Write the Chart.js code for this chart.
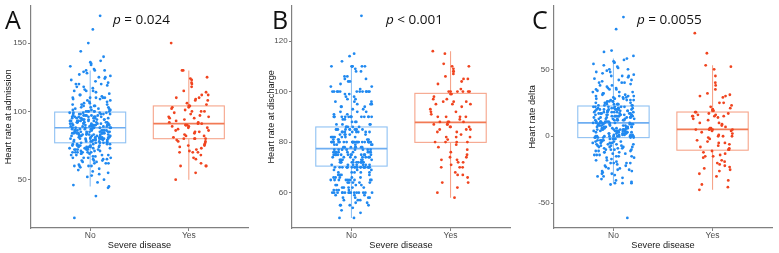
<!DOCTYPE html>
<html>
<head>
<meta charset="utf-8">
<script src="https://cdn.jsdelivr.net/npm/chart.js@4.4.1/dist/chart.umd.min.js"></script>
<style>
  html, body { margin: 0; padding: 0; background: #fff; overflow: hidden; }
  #wrap { position: relative; width: 779px; height: 253px; }
  .panel { position: absolute; top: 0; height: 253px; }
  .letter { position: absolute; font-family: "Open Sans", sans-serif; font-size: 25px; line-height: 25px; color: #111; }
  .pval { position: absolute; font-family: "Open Sans", sans-serif; font-size: 13.5px; line-height: 13.5px; color: #111; white-space: nowrap; }
</style>
</head>
<body>
<div id="wrap">
  <canvas id="chartA" class="panel" width="259" height="253" style="left:0px"></canvas>
  <canvas id="chartB" class="panel" width="259" height="253" style="left:260px"></canvas>
  <canvas id="chartC" class="panel" width="260" height="253" style="left:519px"></canvas>
  <div class="letter" style="left:5px; top:7px">A</div>
  <div class="letter" style="left:272px; top:7px">B</div>
  <div class="letter" style="left:532px; top:7px">C</div>
  <div class="pval" style="left:113px; top:12.5px"><i>p</i> = 0.024</div>
  <div class="pval" style="left:386px; top:12.5px"><i>p</i> &lt; 0.001</div>
  <div class="pval" style="left:637px; top:12.5px"><i>p</i> = 0.0055</div>
</div>
<script>
// Grupos
const groups = ['No', 'Yes'];

// Panel A: frecuencia al ingreso
const admissionNo = [
  170,160,150,144,140,137,136,135,134,133,131,130,130,130,129,128,127,126,125,125,124,123,122,121,120,120,120,119,118,118,
  117,116,115,115,115,114,113,112,112,111,110,110,110,110,110,109,109,108,108,107,107,106,106,105,105,105,104,104,104,103,
  103,103,102,102,102,101,101,101,100,100,100,100,
  99,99,99,98,98,98,98,97,97,97,97,96,96,96,96,96,95,95,95,95,95,94,94,94,94,93,93,93,93,92,92,92,92,92,91,91,91,91,
  90,90,90,90,90,90,89,89,89,89,88,88,88,88,100,98,96,94,92,90,88,99,97,95,93,91,89,90,92,94,96,98,100,95,93,91,89,97,
  99,90,90,94,96,92,88,91,93,
  87,87,87,87,86,86,86,86,86,85,85,85,85,85,84,84,84,84,84,83,83,83,83,82,82,82,82,82,81,81,81,81,80,80,80,80,80,80,80,
  79,79,79,79,78,78,78,78,77,77,77,77,88,86,84,82,80,78,87,85,83,81,79,77,80,82,84,86,88,80,80,85,83,81,79,78,84,86,82,
  80,87,85,83,81,79,77,
  76,76,76,76,75,75,75,75,75,74,74,74,74,73,73,73,73,72,72,72,72,72,71,71,71,70,70,70,70,70,69,69,69,68,68,68,67,67,66,
  66,66,65,65,65,64,64,63,63,62,62,61,60,60,60,59,58,57,56,55,54,53,52,50,48,46,45,44,38,22,70,72,74,76,68,66,64,62,60,75,73
];
const admissionYes = [
  150,130,130,125,124,123,121,120,118,115,114,112,110,110,109,108,106,105,104,104,103,103,102,101,100,100,99,98,97,96,
  95,95,94,93,92,91,91,90,90,90,90,89,89,88,88,87,86,85,85,84,83,82,81,80,80,80,80,79,78,77,76,75,74,73,72,71,70,70,68,
  66,65,62,60,60,60,55,50,70,75,78,82,86,92,96,100,104,108,112
];
// [bigote inferior, Q1, mediana, Q3, bigote superior]
const admissionBoxNo = [45, 77, 88, 99.5, 130];
const admissionBoxYes = [50, 80, 91, 104, 130];
const admissionTicks = [50, 100, 150];

// Panel B: frecuencia al alta
const dischargeNo = [
  130,115,114,112,110,110,110,110,110,110,109,108,106,105,105,104,103,102,101,100,100,100,100,100,100,100,100,100,100,99,
  98,98,97,96,96,95,95,94,94,93,92,92,91,90,90,90,90,90,90,90,90,90,90,90,90,89,89,88,88,88,87,87,87,87,100,100,95,93,91,
  97,99,104,102,108,106,92,94,96,90,90,
  86,86,86,85,85,85,85,85,85,85,84,84,84,84,84,83,83,83,82,82,82,82,81,81,81,80,80,80,80,80,80,80,80,80,80,80,80,80,80,
  80,79,79,79,78,78,78,78,78,77,77,77,77,86,84,82,80,80,80,85,83,81,79,77,80,80,80,78,84,82,80,80,85,83,81,79,78,80,80,
  82,84,86,85,
  77,76,76,76,76,76,75,75,75,75,75,75,75,74,74,74,74,73,73,73,73,72,72,72,72,72,72,71,71,71,71,70,70,70,70,70,70,70,70,
  70,70,70,70,70,70,70,75,75,76,74,72,72,73,71,70,70,76,75,74,73,72,71,70,70,75,75,72,72,74,76,70,70,71,73,75,77,77,76,74,72,
  69,69,68,68,68,67,67,67,66,66,66,65,65,65,65,65,65,65,64,64,64,63,63,63,62,62,62,61,61,61,60,60,60,60,60,60,60,60,60,
  60,60,59,59,58,58,58,57,57,56,56,55,55,55,54,53,52,50,50,68,66,64,62,60,60,65,65,67,69,63,61,59,57,55,58,60,62,64,66,68,60
];
const dischargeYes = [
  116,115,111,110,110,109,108,108,107,106,105,105,103,101,100,100,100,100,100,99,99,98,97,97,96,96,95,95,94,93,92,91,90,
  90,90,89,88,88,88,87,87,87,86,86,86,85,85,84,83,82,82,81,80,80,80,80,79,78,77,75,74,74,73,72,72,71,70,70,70,68,67,67,
  66,64,64,62,60,58,85,88,90,84,92,95,100,76,73,82,96,104
];
const dischargeBoxNo = [50, 70.5, 77.4, 86, 110];
const dischargeBoxYes = [58, 79.9, 87.8, 99.3, 116];
const dischargeTicks = [60, 80, 100, 120];

// Panel C: delta de frecuencia
const deltaNo = [
  89,80,64,63,58,57,56,55,55,54,52,51,50,50,49,48,47,46,45,45,44,43,42,42,41,40,40,39,38,37,36,36,35,35,34,33,33,32,32,
  31,30,30,30,29,29,28,28,27,27,27,26,26,26,25,25,25,24,24,24,24,23,23,23,23,40,35,30,28,26,24,45,38,33,29,25,31,27,60,53,48,
  22,22,22,22,21,21,21,21,20,20,20,20,20,19,19,19,19,18,18,18,18,18,17,17,17,17,16,16,16,16,15,15,15,15,15,14,14,14,14,
  13,13,13,13,12,12,12,12,11,11,11,11,10,10,10,10,22,20,18,16,14,12,10,21,19,17,15,13,11,20,20,15,15,10,10,18,16,14,12,
  22,21,19,17,13,11,10,
  9,9,9,9,8,8,8,8,7,7,7,7,7,6,6,6,6,5,5,5,5,5,4,4,4,4,3,3,3,3,2,2,2,2,1,1,1,1,0,0,0,0,0,0,-1,-1,-1,-1,-2,-2,-2,9,7,5,3,
  1,-1,8,6,4,2,0,-2,5,5,0,0,8,6,4,2,9,7,3,1,-1,5,3,0,6,4,2,
  -3,-3,-3,-4,-4,-4,-5,-5,-5,-6,-6,-6,-7,-7,-7,-8,-8,-8,-9,-9,-10,-10,-10,-11,-11,-12,-12,-13,-13,-14,-14,-15,-15,-16,
  -17,-18,-19,-20,-20,-21,-22,-23,-24,-25,-25,-26,-27,-28,-29,-30,-31,-32,-33,-35,-35,-35,-36,-61,-4,-6,-8,-10,-12,-3,-5,
  -7,-9,-11,-15,-18,-22,-26,-30,-20,-20,-14,-16,-24,-28,-34
];
const deltaYes = [
  77,62,53,52,50,45,40,38,35,32,31,30,30,29,25,23,22,21,20,19,19,18,18,17,17,16,16,15,15,15,14,13,12,10,9,8,7,6,6,5,5,
  5,5,4,4,3,2,1,0,0,-1,-2,-3,-4,-5,-6,-7,-8,-9,-10,-10,-11,-12,-13,-14,-15,-16,-18,-19,-20,-21,-22,-23,-24,-25,-26,-28,
  -30,-33,-36,-38,-40,15,5,-5,20,10,0,-15,25
];
const deltaBoxNo = [-35, -1, 10, 22.6, 58];
const deltaBoxYes = [-40, -10.4, 5.2, 18.1, 53];
const deltaTicks = [-50, 0, 50];

const BLUE = '#2089f0';
const RED = '#f0441f';
const BLUE_BOX = '#8fc1f3';
const BLUE_MED = '#6eaef2';
const RED_BOX = '#f6a48a';
const RED_MED = '#f27a55';
const AXIS = '#808080';
const FONT = 'Liberation Sans, Arial, sans-serif';
const JITTER = 0.21;
const HALF_BOX = 0.36;

// desplazamiento horizontal determinista (solo posicion, no datos)
function jitter(values, center) {
    return values.map((v, i) => {
        const h = Math.sin((i + 1) * 12.9898 + center * 78.233) * 43758.5453;
        return { x: center + JITTER * (2 * (h - Math.floor(h)) - 1), y: v };
    });
}

const boxPlugin = {
    id: 'boxes',
    beforeDatasetsDraw(chart) {
        const xs = chart.scales.x, ys = chart.scales.y, ctx = chart.ctx;
        chart.options.plugins.boxes.items.forEach((b, i) => {
            const c = i + 1;
            const [lo, q1, med, q3, hi] = b.stats;
            const x0 = xs.getPixelForValue(c - HALF_BOX), x1 = xs.getPixelForValue(c + HALF_BOX);
            const xc = xs.getPixelForValue(c);
            ctx.save();
            ctx.strokeStyle = b.color;
            ctx.lineWidth = 1.1;
            ctx.beginPath();
            ctx.moveTo(xc, ys.getPixelForValue(q3));
            ctx.lineTo(xc, ys.getPixelForValue(hi));
            ctx.moveTo(xc, ys.getPixelForValue(q1));
            ctx.lineTo(xc, ys.getPixelForValue(lo));
            ctx.stroke();
            ctx.strokeRect(x0, ys.getPixelForValue(q3), x1 - x0, ys.getPixelForValue(q1) - ys.getPixelForValue(q3));
            ctx.strokeStyle = b.median;
            ctx.lineWidth = 1.7;
            ctx.beginPath();
            ctx.moveTo(x0, ys.getPixelForValue(med));
            ctx.lineTo(x1, ys.getPixelForValue(med));
            ctx.stroke();
            ctx.restore();
        });
    }
};

function makePanel(id, cfg) {
    const ctx = document.getElementById(id).getContext('2d');
    new Chart(ctx, {
        type: 'scatter',
        data: {
            datasets: [
                { data: jitter(cfg.no, 1), backgroundColor: BLUE, pointRadius: 1.4, pointHoverRadius: 1.4, borderWidth: 0 },
                { data: jitter(cfg.yes, 2), backgroundColor: RED, pointRadius: 1.4, pointHoverRadius: 1.4, borderWidth: 0 }
            ]
        },
        options: {
            responsive: false,
            animation: false,
            devicePixelRatio: 1,
            layout: { padding: { top: 5.7, right: cfg.right, left: 0, bottom: 0 } },
            plugins: {
                legend: { display: false },
                tooltip: { enabled: false },
                boxes: {
                    items: [
                        { stats: cfg.boxNo, color: BLUE_BOX, median: BLUE_MED },
                        { stats: cfg.boxYes, color: RED_BOX, median: RED_MED }
                    ]
                }
            },
            scales: {
                x: {
                    type: 'linear',
                    min: 0.4,
                    max: 2.6,
                    afterBuildTicks: s => { s.ticks = [{ value: 1 }, { value: 2 }]; },
                    afterFit: s => { s.height = 25; s.paddingLeft = 0; s.paddingRight = 0; },
                    ticks: { callback: v => groups[v - 1], font: { family: FONT, size: 8.5 }, color: '#4d4d4d', padding: 0, maxRotation: 0, autoSkip: false },
                    grid: { drawOnChartArea: false, tickLength: 3, color: AXIS },
                    border: { color: AXIS, width: 1.2 },
                    title: { display: true, text: 'Severe disease', font: { family: FONT, size: 9.2 }, color: '#1a1a1a', padding: { top: 0, bottom: 2 } }
                },
                y: {
                    min: cfg.min,
                    max: cfg.max,
                    afterBuildTicks: s => { s.ticks = cfg.ticks.map(v => ({ value: v })); },
                    afterFit: s => { s.width = cfg.axisX; s.paddingTop = 0; s.paddingBottom = 0; },
                    ticks: { font: { family: FONT, size: 8 }, color: '#4d4d4d', padding: 1.3 },
                    grid: { drawOnChartArea: false, tickLength: 3, color: AXIS },
                    border: { color: AXIS, width: 1.2 },
                    title: { display: true, text: cfg.title, font: { family: FONT, size: 9.2 }, color: '#1a1a1a', padding: { top: cfg.titlePad, bottom: 0 } }
                }
            }
        },
        plugins: [boxPlugin]
    });
}

makePanel('chartA', {
    no: admissionNo, yes: admissionYes, boxNo: admissionBoxNo, boxYes: admissionBoxYes,
    ticks: admissionTicks, min: 14.6, max: 177.4, title: 'Heart rate at admission',
    axisX: 31, right: 11, titlePad: 3.1
});
makePanel('chartB', {
    no: dischargeNo, yes: dischargeYes, boxNo: dischargeBoxNo, boxYes: dischargeBoxYes,
    ticks: dischargeTicks, min: 46, max: 134, title: 'Heart rate at discharge',
    axisX: 32, right: 9, titlePad: 6.2
});
makePanel('chartC', {
    no: deltaNo, yes: deltaYes, boxNo: deltaBoxNo, boxYes: deltaBoxYes,
    ticks: deltaTicks, min: -68.5, max: 97.5, title: 'Heart rate delta',
    axisX: 35, right: 7, titlePad: 8
});
</script>
</body>
</html>
